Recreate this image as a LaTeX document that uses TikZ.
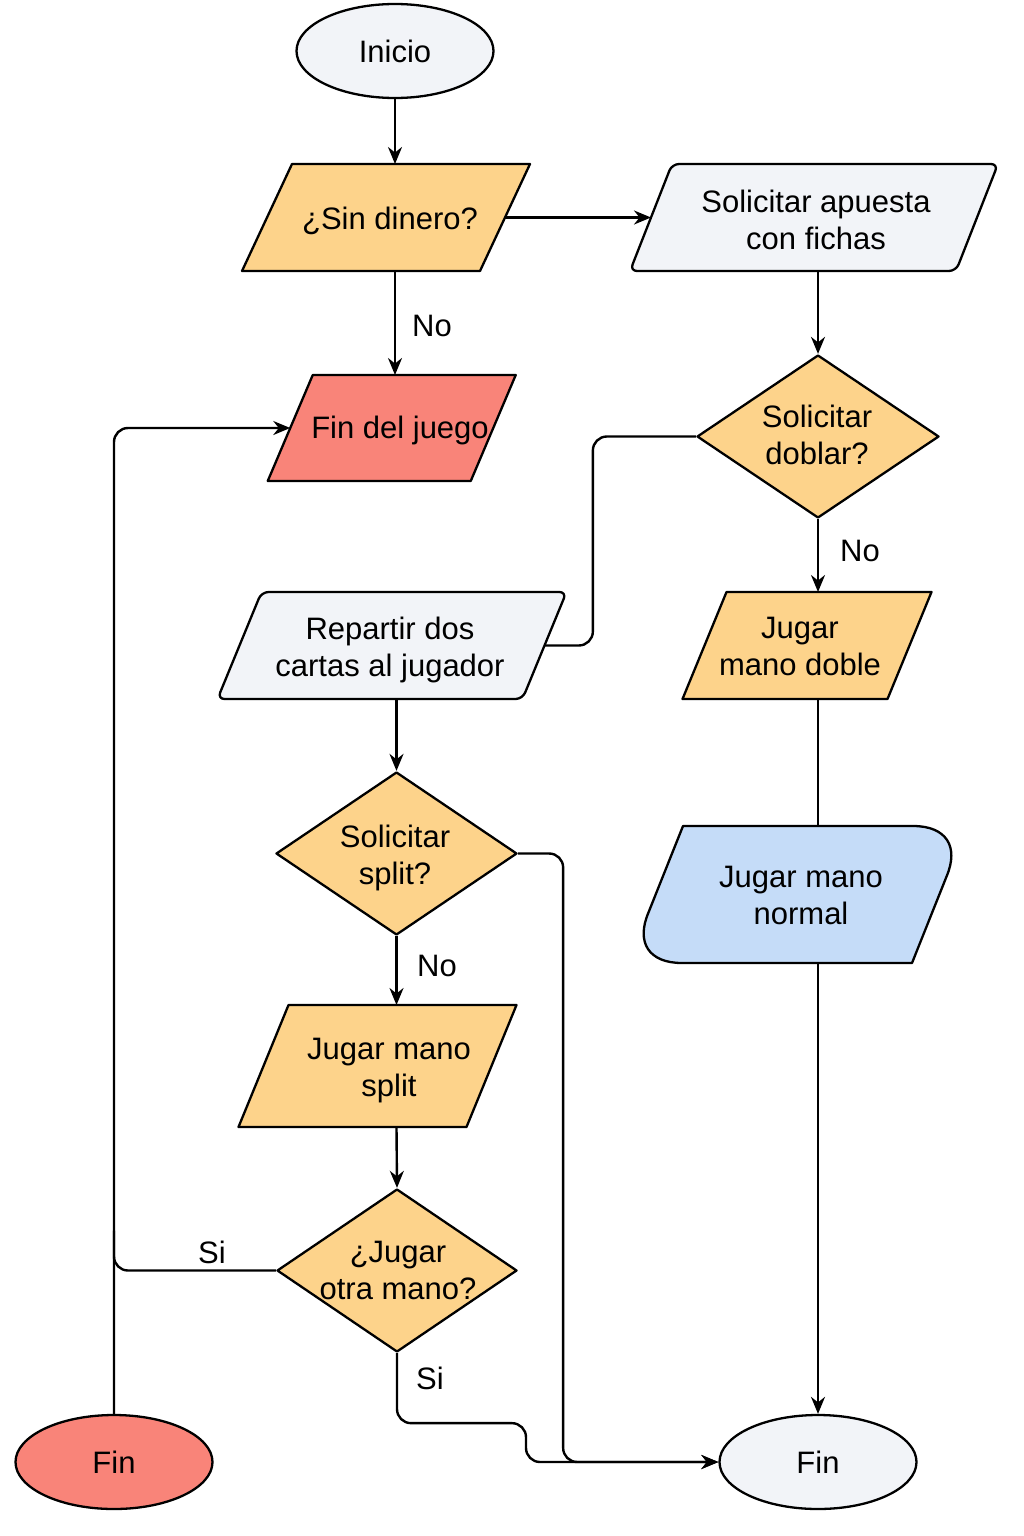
\documentclass[tikz,border=0pt]{standalone}
\usepackage{fontspec}
\setmainfont{Liberation Sans}
\usetikzlibrary{shapes.geometric,arrows.meta,calc}
\definecolor{cOrange}{HTML}{FDD38B}
\definecolor{cSalmon}{HTML}{F98479}
\definecolor{cGrey}{HTML}{F2F4F8}
\definecolor{cBlue}{HTML}{C5DCF8}
% name, centre, side width, height, skew, style
\newcommand\pgshape[6]{%
  \node[inner sep=0pt, outer sep=0pt, minimum width=#3, minimum height=#4] (#1) at (#2) {};
  \draw[box,#6] ([xshift={(#5)/2}]#1.north west) -- ([xshift={(#5)/2}]#1.north east)
     -- ([xshift={-(#5)/2}]#1.south east) -- ([xshift={-(#5)/2}]#1.south west) -- cycle;}
\begin{document}
\begin{tikzpicture}[x=1pt,y=-1pt,
  box/.style={draw=black, line width=2.3pt, line join=round},
  txt/.style={inner sep=0pt, align=center, font=\fontsize{31pt}{37pt}\selectfont},
  conn/.style={line width=2.4pt, rounded corners=14pt},
  arr/.style={conn, -{Stealth[length=17pt,width=14pt]}},
  ell/.style={box, ellipse, inner sep=0pt, minimum width=197pt, minimum height=94pt,
              font=\fontsize{31pt}{37pt}\selectfont},
  dia/.style={box, diamond, inner sep=0pt, fill=cOrange}]
\useasboundingbox (0,0) rectangle (1024,1536);
\fill[white] (0,0) rectangle (1024,1536);

% shapes
\node[ell, fill=cGrey] (inicio) at (395,51) {Inicio};
\pgshape{sin}{386,217.5}{238pt}{107pt}{50pt}{fill=cOrange}
\pgshape{solic}{814,217.5}{326pt}{107pt}{42pt}{fill=cGrey, rounded corners=7pt}
\pgshape{finjuego}{391.75,428}{203pt}{106pt}{45pt}{fill=cSalmon}
\node[dia, minimum width=242pt, minimum height=163pt] (doblar) at (818,436.5) {};
\pgshape{doble}{807,645.5}{205pt}{107pt}{44pt}{fill=cOrange}
\node[inner sep=0pt, outer sep=0pt, minimum width=285pt, minimum height=137pt] (normal) at (797.5,894.5) {};
\draw[box, fill=cBlue] (683,826) -- (913,826) .. controls (946,826) and (959.4,846.2) .. (946.5,876.6)
   -- (912,963) -- (682,963) .. controls (649,963) and (635.6,942.8) .. (648.5,912.4) -- cycle;
\pgshape{repartir}{392,645.5}{305pt}{107pt}{44pt}{fill=cGrey, rounded corners=7pt}
\node[dia, minimum width=241pt, minimum height=163pt] (split) at (396.5,853.5) {};
\pgshape{msplit}{377.5,1066}{228pt}{122pt}{50pt}{fill=cOrange}
\node[dia, minimum width=240pt, minimum height=163pt] (otra) at (397,1270.5) {};
\node[ell, fill=cSalmon] (fin1) at (114,1462) {Fin};
\node[ell, fill=cGrey] (fin2) at (818,1462) {Fin};

% texts
\node[txt] (t-sin) at (390,221) {¿Sin dinero?};
\node[txt] (t-solic) at (816,219.5) {Solicitar apuesta\\con fichas};
\node[txt] (t-finjuego) at (400,430) {Fin del juego};
\node[txt] (t-doblar) at (817,434.5) {Solicitar\\doblar?};
\node[txt] (t-doble) at (800,646.5) {Jugar\\mano doble};
\node[txt] (t-normal) at (801,895.5) {Jugar mano\\normal};
\node[txt] (t-repartir) at (390,649.5) {Repartir dos\\cartas al jugador};
\node[txt] (t-split) at (395,857.5) {Solicitar\\split?};
\node[txt] (t-msplit) at (389,1070.5) {Jugar mano\\split};
\node[txt] (t-otra) at (398,1270) {¿Jugar\\otra mano?};

% labels
\node[txt] (l-no1) at (432,326) {No};
\node[txt] (l-no2) at (860,551) {No};
\node[txt] (l-no3) at (437,966) {No};
\node[txt] (l-si1) at (212,1252) {Si};
\node[txt] (l-si2) at (430,1378) {Si};

% connectors
\draw[arr] (inicio.south) -- (sin.north -| inicio);
\draw[arr] (sin.east) -- (solic.west);
\draw[arr] (sin.south -| inicio) -- (finjuego.north -| inicio);
\draw[arr] (solic.south -| doblar) -- (doblar.north);
\draw[arr] (doblar.south) -- (doble.north -| doblar);
\draw[conn] (doble.south -| doblar) -- (normal.north -| doblar);
\draw[arr] (normal.south -| doblar) -- (fin2.north);
\draw[conn] (doblar.west) -- ++(-103,0) |- (repartir.east);
\draw[arr] (repartir.south -| split) -- (split.north);
\draw[arr] (split.south) -- (msplit.north -| split);
\draw[arr] (msplit.south -| split) -- (otra.north);
\draw[arr] (split.east) -- ++(45,0) |- (fin2.west);
\draw[arr] (otra.south) -- ++(0,70) -- ++(129,0) |- (fin2.west);
\draw[arr] (fin1.north) |- (finjuego.west);
\draw[conn] (otra.west) -- (otra.west -| fin1) -- ++(0,-40);
\end{tikzpicture}
\end{document}
